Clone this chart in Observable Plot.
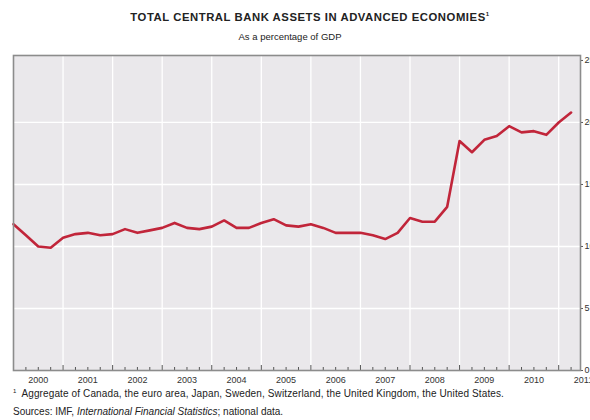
<!DOCTYPE html>
<html><head><meta charset="utf-8">
<script src="https://cdn.jsdelivr.net/npm/d3@7"></script>
<script src="https://cdn.jsdelivr.net/npm/@observablehq/plot@0.6"></script>
<style>
html,body{margin:0;padding:0;background:#fff;}
body{width:590px;height:420px;overflow:hidden;position:relative;font-family:"Liberation Sans",Arial,sans-serif;color:#222;}
#title{position:absolute;top:11px;left:0;width:620px;text-align:center;font-weight:bold;font-size:11.3px;letter-spacing:0.55px;}
#title sup{font-size:6px;vertical-align:5px;}
#subtitle{position:absolute;top:31px;left:0;width:580px;text-align:center;font-size:9.5px;}
#chart{position:absolute;top:45px;left:0;}
#note{position:absolute;top:388px;left:13px;font-size:10px;letter-spacing:0.12px;white-space:nowrap;}
#note sup{font-size:6px;vertical-align:4px;margin-right:5px;}
#source{position:absolute;top:406px;left:13px;font-size:10px;white-space:nowrap;}
</style>
</head><body>
<div id="title">TOTAL CENTRAL BANK ASSETS IN ADVANCED ECONOMIES<sup>1</sup></div>
<div id="subtitle">As a percentage of GDP</div>
<div id="chart"></div>
<div id="note"><sup>1</sup>Aggregate of Canada, the euro area, Japan, Sweden, Switzerland, the United Kingdom, the United States.</div>
<div id="source">Sources: IMF, <i>International Financial Statistics</i>; national data.</div>
<script>
// Quarterly observations starting 2000 Q1
const startYear = 2000;
const assets = [
  11.8, 10.9, 10.0, 9.9,
  10.7, 11.0, 11.1, 10.9,
  11.0, 11.4, 11.1, 11.3,
  11.5, 11.9, 11.5, 11.4,
  11.6, 12.1, 11.5, 11.5,
  11.9, 12.2, 11.7, 11.6,
  11.8, 11.5, 11.1, 11.1,
  11.1, 10.9, 10.6, 11.1,
  12.3, 12.0, 12.0, 13.2,
  18.5, 17.6, 18.6, 18.9,
  19.7, 19.2, 19.3, 19.0,
  20.0, 20.8
];
const yearLabels = [2000, 2001, 2002, 2003, 2004, 2005, 2006, 2007, 2008, 2009, 2010, 2011];
const yTicks = [0, 5, 10, 15, 20, 25];
const yGrid = [5, 10, 15, 20];

const data = assets.map((v, i) => ({t: startYear + i / 4, v}));
const yearBounds = yearLabels.slice(1);
const quarterTicks = d3.range(0, yearLabels.length * 4).map(i => startYear + i / 4).filter(t => t > startYear && t < 2011.44 && t % 1 !== 0);

const chart = Plot.plot({
  width: 590,
  height: 340,
  marginTop: 10,
  marginBottom: 15,
  marginLeft: 13,
  marginRight: 10,
  style: {fontFamily: "'Liberation Sans', Arial, sans-serif", fontSize: "9px", color: "#222", background: "transparent"},
  x: {domain: [2000, 2011.44], axis: null},
  y: {domain: [0, 25.4], axis: null},
  marks: [
    Plot.frame({fill: "#eae8eb", stroke: null}),
    Plot.ruleX(yearBounds, {stroke: "#ffffff", strokeWidth: 1.3}),
    Plot.ruleY(yGrid, {stroke: "#ffffff", strokeWidth: 1.3}),
    Plot.axisX(quarterTicks, {anchor: "bottom", tickSize: -3, text: null, label: null, stroke: "#555"}),
    Plot.axisX(yearBounds, {anchor: "bottom", tickSize: -5, text: null, label: null, stroke: "#555"}),
    Plot.axisX(yearLabels.map(y => y + 0.5), {anchor: "bottom", tickSize: 0, tickPadding: 6, label: null, tickFormat: d => String(Math.floor(d)), fill: "#333"}),
    Plot.axisY(yTicks, {anchor: "right", tickSize: 2, tickPadding: 2, label: null, fill: "#333", stroke: "#555"}),
    Plot.line(data, {x: "t", y: "v", stroke: "#c1253a", strokeWidth: 2.6, strokeLinejoin: "round"}),
    Plot.frame({stroke: "#8c8c8c", strokeWidth: 1.6})
  ]
});
document.getElementById("chart").appendChild(chart);
</script>
</body></html>
